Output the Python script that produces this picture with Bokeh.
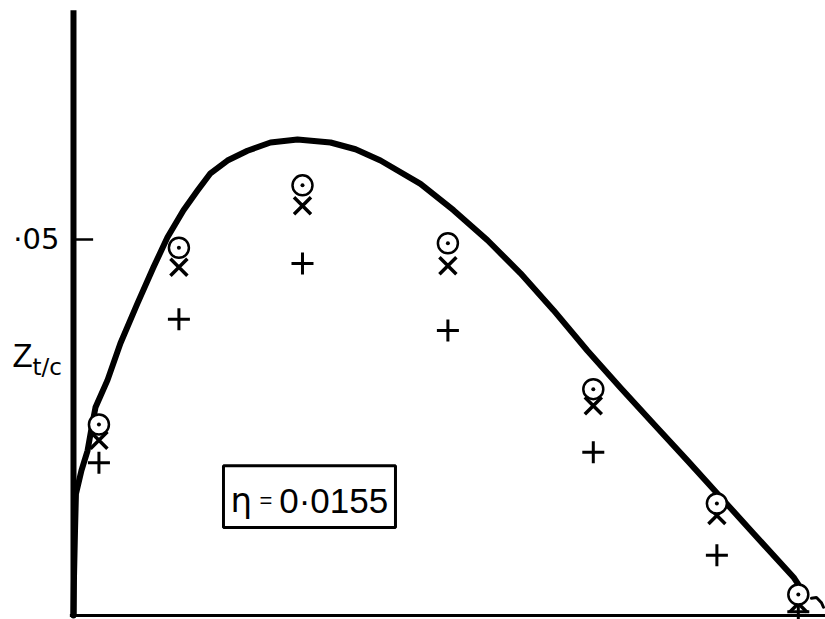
from bokeh.plotting import figure
from bokeh.models import Range1d
from bokeh.core.properties import value
from bokeh.embed import file_html
from bokeh.resources import INLINE

# chordwise stations x/c
stations = [0.035, 0.145, 0.315, 0.515, 0.715, 0.885, 0.997]
# measured thickness distributions (three data sets)
z_circle = [0.0254, 0.0489, 0.0572, 0.0495, 0.0301, 0.0149, 0.0028]
z_cross_x = [0.0233, 0.0463, 0.0545, 0.0465, 0.0279, 0.0133, 0.0016]
z_plus = [0.0203, 0.0394, 0.0468, 0.0379, 0.0217, 0.0080, 0.0005]

# theoretical thickness curve
curve_x = [0.0, 0.0007, 0.0021, 0.0034, 0.0110, 0.0193, 0.0248, 0.0303,
           0.0468, 0.0646, 0.0880, 0.1100, 0.1293, 0.1513, 0.1706, 0.1884,
           0.2118, 0.2393, 0.2710, 0.3081, 0.3535, 0.3879, 0.4223, 0.4773,
           0.5227, 0.5695, 0.6149, 0.6602, 0.7070, 0.7524, 0.7978, 0.8446,
           0.8831, 0.9354, 0.9904, 0.9972]
curve_z = [0.0, 0.00505, 0.0113, 0.0162, 0.0193, 0.0219, 0.0249, 0.0277,
           0.0313, 0.0362, 0.0415, 0.0463, 0.0503, 0.0539, 0.0565, 0.0588,
           0.0605, 0.0618, 0.0629, 0.0633, 0.0629, 0.0620, 0.0605, 0.0574,
           0.0539, 0.0499, 0.0455, 0.0406, 0.0352, 0.0303, 0.0255, 0.0206,
           0.0165, 0.0109, 0.0051, 0.0041]

# small trailing-edge hook
hook_x = [1.0151, 1.0220, 1.0289, 1.0316]
hook_z = [0.0023, 0.0024, 0.0017, 0.0011]

y_tick = 0.05
y_tick_label = "·05"
eta_label = "0·0155"

p = figure(width=825, height=619, output_backend="svg", toolbar_location=None,
           x_range=Range1d(-0.1004, 1.0344), y_range=Range1d(-0.00053, 0.08178),
           min_border=0, min_border_left=0, min_border_right=0,
           min_border_top=0, min_border_bottom=0)
p.axis.visible = False
p.grid.visible = False
p.outline_line_color = None
p.background_fill_color = "white"

ink = "black"

# axes drawn as plain lines
p.segment(x0=[0.0], y0=[0.0], x1=[0.0], y1=[0.0805], line_width=6, line_color=ink)
p.segment(x0=[-0.005], y0=[0.0], x1=[1.04], y1=[0.0], line_width=3, line_color=ink)
p.segment(x0=[0.0], y0=[y_tick], x1=[0.027], y1=[y_tick], line_width=2.5, line_color=ink)

p.text(x=[-0.0193], y=[y_tick], text=[y_tick_label], text_font=value("DejaVu Sans"),
       text_font_size="29px", text_align="right", text_baseline="middle", text_color=ink)
p.text(x=[-0.084], y=[0.0346], text=["Z"], text_font=value("Liberation Sans"),
       text_font_size="33px", text_align="left", text_baseline="middle", text_color=ink)
p.text(x=[-0.0564], y=[0.0330], text=["t/c"], text_font=value("DejaVu Sans"),
       text_font_size="23px", text_align="left", text_baseline="middle", text_color=ink)

# curve
p.line(curve_x, curve_z, line_width=6, line_color=ink, line_join="round", line_cap="round")
p.line(hook_x, hook_z, line_width=3, line_color=ink, line_cap="round")

# measurement markers
p.scatter(stations, z_plus, marker="cross", size=22, line_width=3, line_color=ink)
p.scatter(stations, z_cross_x, marker="x", size=24, line_width=3.5, line_color=ink)
p.scatter(stations, z_circle, marker="circle", size=20, line_width=2.5,
          line_color=ink, fill_color="white")
p.scatter(stations, z_circle, marker="circle", size=4, line_width=0, fill_color=ink)

# annotation box
p.quad(left=[0.2063], right=[0.4429], top=[0.0199], bottom=[0.0117],
       fill_color=None, line_color=ink, line_width=3)
p.text(x=[0.2160], y=[0.0153], text=["η"], text_font=value("DejaVu Sans"),
       text_font_size="34px", text_align="left", text_baseline="middle", text_color=ink)
p.text(x=[0.2558], y=[0.0153], text=["="], text_font=value("Liberation Sans"),
       text_font_size="22px", text_align="left", text_baseline="middle", text_color=ink)
p.text(x=[0.2830], y=[0.0153], text=[eta_label], text_font=value("Liberation Sans"),
       text_font_size="35px", text_align="left", text_baseline="middle", text_color=ink)

open("out.html", "w").write(file_html(p, INLINE))
